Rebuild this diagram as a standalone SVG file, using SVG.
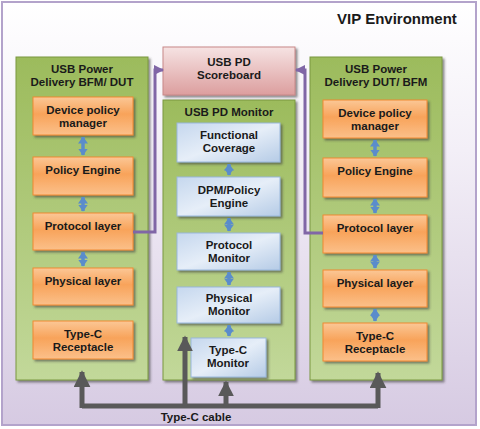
<svg xmlns="http://www.w3.org/2000/svg" width="480" height="429" viewBox="0 0 480 429">
<defs>
<linearGradient id="bg" x1="0" y1="0" x2="0" y2="1"><stop offset="0" stop-color="#ffffff"/><stop offset="0.35" stop-color="#f3eff7"/><stop offset="1" stop-color="#d6cae2"/></linearGradient>
<linearGradient id="green" x1="0" y1="0" x2="0" y2="1"><stop offset="0" stop-color="#9cbb5c"/><stop offset="1" stop-color="#c2d89a"/></linearGradient>
<linearGradient id="orange" x1="0" y1="0" x2="0" y2="1"><stop offset="0" stop-color="#fbc796"/><stop offset="0.45" stop-color="#f8a35a"/><stop offset="1" stop-color="#fbc08a"/></linearGradient>
<linearGradient id="blue" x1="0" y1="0" x2="1" y2="1"><stop offset="0" stop-color="#c5d7ee"/><stop offset="0.5" stop-color="#e6eef8"/><stop offset="1" stop-color="#b5cbe6"/></linearGradient>
<linearGradient id="pink" x1="0" y1="0" x2="0" y2="1"><stop offset="0" stop-color="#f6e3e3"/><stop offset="1" stop-color="#dc9e9e"/></linearGradient>
<filter id="sh" x="-10%" y="-10%" width="130%" height="130%"><feDropShadow dx="2" dy="2" stdDeviation="0.8" flood-color="#404040" flood-opacity="0.6"/></filter>
<marker id="ba" viewBox="0 0 7 10" refX="6.5" refY="5" markerWidth="2" markerHeight="2.9" orient="auto-start-reverse"><path d="M0,0 L7,5 L0,10 z" fill="#5a8ccb"/></marker>
<marker id="pa" viewBox="0 0 10 10" refX="9" refY="5" markerWidth="3.5" markerHeight="3.5" orient="auto"><path d="M0,0 L10,5 L0,10 z" fill="#8066a6"/></marker>
<marker id="ga" viewBox="0 0 10 10" refX="9" refY="5" markerWidth="3.4" markerHeight="3.4" orient="auto"><path d="M0,0 L10,5 L0,10 z" fill="#595959"/></marker>
<marker id="gs" viewBox="0 0 10 10" refX="9" refY="5" markerWidth="3.2" markerHeight="3.2" orient="auto"><path d="M0,0 L10,5 L0,10 z" fill="#595959"/></marker>
</defs>
<style>
text{font-family:"Liberation Sans",Arial,sans-serif;font-weight:bold;font-size:11.5px;fill:#1a1a1a;text-anchor:middle}
.panel{fill:url(#green);stroke:#7a9840;stroke-width:1;filter:url(#sh)}
.ob{fill:url(#orange);stroke:#f08a30;stroke-width:1;filter:url(#sh)}
.bb{fill:url(#blue);stroke:#9ab8dc;stroke-width:1;filter:url(#sh)}
.ba{stroke:#5a8ccb;stroke-width:3.5;fill:none;marker-start:url(#ba);marker-end:url(#ba)}
.pl{stroke:#8066a6;stroke-width:3;fill:none;marker-end:url(#pa)}
.gl{stroke:#595959;stroke-width:5;fill:none}
</style>
<rect x="2" y="2" width="474" height="423" fill="url(#bg)" stroke="#b3a3cb" stroke-width="2"/>
<text x="397" y="24" style="font-size:15px">VIP Environment</text>

<g id="panel-left"><rect class="panel" x="16" y="57" width="132" height="323"/><text x="82" y="73">USB Power</text><text x="82" y="86">Delivery BFM/ DUT</text></g>
<g id="panel-mid"><rect class="panel" x="163" y="100" width="132" height="280"/><text x="229" y="116">USB PD Monitor</text></g>
<g id="panel-right"><rect class="panel" x="310" y="57" width="132" height="323"/><text x="376" y="73">USB Power</text><text x="376" y="86">Delivery DUT/ BFM</text></g>

<g id="scoreboard"><rect x="163" y="47" width="132" height="48" fill="url(#pink)" stroke="#c78888" stroke-width="1" filter="url(#sh)"/><text x="229" y="66">USB PD</text><text x="229" y="79">Scoreboard</text></g>

<g id="l-dpm"><rect class="ob" x="33" y="97" width="100" height="38"/><text x="83" y="114">Device policy</text><text x="83" y="127">manager</text></g>
<g id="l-pe"><rect class="ob" x="33" y="157" width="100" height="38"/><text x="83" y="174">Policy Engine</text></g>
<g id="l-pl"><rect class="ob" x="33" y="213" width="100" height="37"/><text x="83" y="230">Protocol layer</text></g>
<g id="l-phy"><rect class="ob" x="33" y="268" width="100" height="37"/><text x="83" y="285">Physical layer</text></g>
<g id="l-tc"><rect class="ob" x="33" y="321" width="100" height="38"/><text x="83" y="338">Type-C</text><text x="83" y="351">Receptacle</text></g>

<g id="r-dpm"><rect class="ob" x="323" y="100" width="104" height="38"/><text x="375" y="117">Device policy</text><text x="375" y="130">manager</text></g>
<g id="r-pe"><rect class="ob" x="323" y="158" width="104" height="39"/><text x="375" y="175">Policy Engine</text></g>
<g id="r-pl"><rect class="ob" x="323" y="215" width="104" height="38"/><text x="375" y="232">Protocol layer</text></g>
<g id="r-phy"><rect class="ob" x="323" y="270" width="104" height="37"/><text x="375" y="287">Physical layer</text></g>
<g id="r-tc"><rect class="ob" x="323" y="323" width="104" height="38"/><text x="375" y="340">Type-C</text><text x="375" y="353">Receptacle</text></g>

<g id="m-fc"><rect class="bb" x="177" y="123" width="103" height="39"/><text x="229" y="139">Functional</text><text x="229" y="152">Coverage</text></g>
<g id="m-dpm"><rect class="bb" x="177" y="177" width="103" height="39"/><text x="229" y="194">DPM/Policy</text><text x="229" y="207">Engine</text></g>
<g id="m-prot"><rect class="bb" x="177" y="233" width="103" height="37"/><text x="229" y="249">Protocol</text><text x="229" y="262">Monitor</text></g>
<g id="m-phy"><rect class="bb" x="177" y="287" width="103" height="36"/><text x="229" y="302">Physical</text><text x="229" y="315">Monitor</text></g>
<g id="m-tc"><rect class="bb" x="191" y="338" width="75" height="39"/><text x="228" y="354">Type-C</text><text x="228" y="367">Monitor</text></g>

<g id="connectors">
<line class="ba" x1="83" y1="137" x2="83" y2="155"/>
<line class="ba" x1="83" y1="197" x2="83" y2="211"/>
<line class="ba" x1="83" y1="252" x2="83" y2="266"/>
<line class="ba" x1="375" y1="140" x2="375" y2="156"/>
<line class="ba" x1="375" y1="199" x2="375" y2="213"/>
<line class="ba" x1="375" y1="255" x2="375" y2="268"/>
<line class="ba" x1="375" y1="309" x2="375" y2="321"/>
<line class="ba" x1="229" y1="164" x2="229" y2="175"/>
<line class="ba" x1="229" y1="218" x2="229" y2="231"/>
<line class="ba" x1="229" y1="272" x2="229" y2="285"/>
<line class="ba" x1="229" y1="325" x2="229" y2="336"/>
<path class="pl" d="M133,232 H155 V70 H163"/>
<path class="pl" d="M323,233 H305 V70 H296"/>
<path class="gl" d="M82,406 H378"/>
<path class="gl" d="M82,408 V372" marker-end="url(#ga)"/>
<path class="gl" d="M378,408 V373" marker-end="url(#ga)"/>
<path class="gl" d="M185,406 V337" marker-end="url(#gs)"/>
<path class="gl" d="M226,406 V382" marker-end="url(#gs)"/>
</g>
<text x="196" y="421">Type-C cable</text>
</svg>
